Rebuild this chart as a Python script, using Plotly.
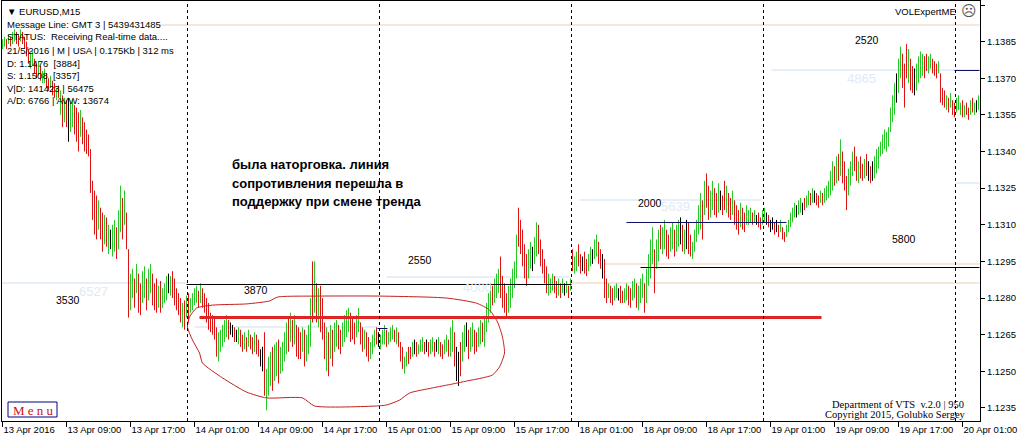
import plotly.graph_objects as go

# ---------------- data (prices stored as pips above BASE) ----------------
BASE = 1.1200
PIP = 0.0001

HIGH_PIPS = [
    186, 187, 186, 188, 187, 189, 190, 189, 188, 190,
    189, 187, 185, 182, 180, 181, 178, 176, 177, 175,
    173, 174, 172, 170, 171, 169, 168, 166, 167, 165,
    163, 162, 161, 162, 160, 161, 159, 158, 156, 157,
    154, 152, 149, 147, 141, 128, 124, 122, 120, 117,
    115, 114, 113, 110, 108, 110, 112, 109, 116, 126,
    121, 124, 115, 100, 90, 92, 88, 94, 90, 86,
    91, 93, 88, 92, 94, 90, 86, 88, 85, 87,
    84, 86, 89, 90, 89, 91, 88, 84, 82, 80,
    78, 79, 81, 82, 80, 82, 84, 85, 83, 86,
    84, 82, 80, 78, 74, 73, 72, 68, 66, 67,
    69, 71, 73, 71, 70, 69, 68, 67, 68, 67,
    65, 66, 64, 67, 65, 64, 66, 65, 63, 59,
    60, 66, 51, 56, 58, 60, 61, 62, 63, 60,
    62, 66, 70, 72, 74, 71, 73, 69, 68, 66,
    68, 67, 65, 69, 80, 95, 95, 86, 84, 85,
    80, 70, 68, 66, 69, 67, 70, 71, 69, 67,
    70, 73, 75, 76, 74, 72, 70, 73, 76, 70,
    68, 67, 66, 64, 62, 65, 67, 68, 66, 65,
    67, 69, 67, 66, 68, 69, 67, 68, 66, 62,
    60, 56, 58, 60, 60, 62, 63, 62, 61, 63,
    64, 62, 63, 62, 63, 64, 62, 63, 64, 62,
    61, 63, 65, 63, 68, 71, 66, 60, 58, 62,
    66, 69, 70, 67, 68, 70, 67, 66, 68, 71,
    70, 72, 78, 82, 86, 85, 88, 90, 92, 97,
    89, 86, 82, 85, 88, 92, 95, 106, 117, 112,
    108, 102, 98, 100, 103, 101, 105, 111, 110, 104,
    100, 96, 93, 90, 88, 90, 89, 87, 88, 86,
    88, 86, 87, 85, 88, 100, 97, 99, 102, 98,
    97, 99, 96, 98, 101, 100, 104, 106, 103, 100,
    98, 96, 88, 86, 85, 84, 85, 86, 84, 85,
    83, 84, 86, 85, 84, 87, 88, 86, 85, 88,
    90, 86, 92, 98, 104, 109, 100, 104, 108, 110,
    109, 112, 108, 106, 109, 111, 108, 110, 112, 113,
    110, 108, 112, 111, 106, 103, 108, 112, 118, 123,
    120, 128, 131, 126, 124, 128, 125, 123, 127, 124,
    122, 128, 126, 123, 121, 124, 120, 118, 116, 119,
    117, 115, 118, 116, 117, 115, 116, 114, 115, 113,
    116, 117, 115, 114, 112, 113, 111, 112, 110, 112,
    109, 107, 110, 112, 115, 117, 119, 118, 120, 121,
    119, 121, 122, 124, 123, 125, 124, 123, 122, 124,
    123, 125, 126, 128, 132, 136, 134, 138, 139, 145,
    140, 136, 130, 133, 136, 140, 142, 138, 136, 138,
    135, 137, 139, 136, 134, 136, 138, 141, 142, 144,
    147, 149, 148, 150, 158, 163, 168, 172, 178, 183,
    180, 176, 184, 182, 178, 175, 174, 176, 179, 181,
    180, 179, 180, 179, 180, 178, 177, 176, 177, 172,
    166, 165, 163, 162, 164, 161, 160, 162, 163, 160,
    161, 159, 160, 158, 161, 162, 160, 161, 163,
]

LOW_PIPS = [
    182, 183, 182, 184, 183, 184, 185, 184, 183, 185,
    184, 182, 179, 176, 174, 175, 172, 170, 171, 169,
    168, 168, 166, 165, 166, 163, 162, 161, 162, 155,
    150, 152, 150, 144, 148, 150, 147, 144, 140, 146,
    143, 140, 139, 138, 123, 112, 106, 104, 108, 104,
    99, 102, 101, 98, 100, 97, 99, 96, 100, 107,
    104, 110, 100, 72, 75, 80, 76, 82, 74, 73,
    78, 80, 75, 79, 82, 77, 75, 74, 76, 74,
    76, 78, 79, 82, 81, 80, 77, 75, 73, 70,
    68, 67, 72, 70, 74, 75, 77, 78, 76, 78,
    76, 74, 70, 67, 66, 65, 63, 56, 54, 58,
    60, 62, 64, 63, 65, 64, 62, 62, 61, 60,
    58, 59, 58, 60, 59, 57, 58, 57, 56, 52,
    50, 40, 34, 40, 44, 42, 46, 48, 45, 49,
    50, 54, 57, 58, 62, 60, 61, 56, 55, 55,
    58, 52, 54, 57, 60, 70, 74, 70, 68, 66,
    63, 55, 50, 48, 55, 52, 58, 60, 59, 57,
    60, 62, 64, 66, 62, 63, 61, 64, 66, 61,
    58, 59, 56, 54, 55, 57, 60, 61, 60, 59,
    61, 61, 60, 61, 62, 63, 62, 61, 60, 54,
    51, 49, 52, 53, 55, 56, 57, 56, 57, 58,
    58, 57, 58, 56, 57, 58, 56, 58, 57, 56,
    55, 57, 58, 56, 56, 58, 52, 46, 44, 48,
    54, 58, 60, 55, 58, 60, 57, 58, 60, 61,
    62, 60, 66, 70, 74, 77, 78, 80, 82, 80,
    76, 74, 72, 74, 76, 80, 84, 88, 101, 98,
    93, 88, 85, 88, 92, 91, 94, 97, 98, 93,
    90, 86, 82, 81, 82, 83, 82, 80, 81, 80,
    82, 81, 82, 80, 83, 91, 90, 91, 93, 90,
    91, 90, 89, 91, 93, 94, 96, 97, 94, 92,
    88, 80, 78, 80, 78, 77, 79, 80, 79, 78,
    78, 78, 79, 77, 76, 79, 80, 76, 75, 78,
    80, 74, 78, 85, 88, 94, 82, 92, 95, 100,
    98, 100, 97, 96, 99, 100, 97, 99, 101, 102,
    99, 98, 100, 98, 97, 96, 99, 103, 106, 108,
    104, 114, 117, 112, 113, 116, 114, 113, 115, 116,
    114, 116, 115, 113, 112, 114, 110, 108, 106, 109,
    108, 107, 110, 110, 111, 110, 111, 110, 109, 108,
    110, 111, 110, 109, 107, 108, 106, 107, 105, 107,
    104, 103, 105, 107, 109, 111, 113, 113, 114, 115,
    114, 116, 117, 118, 118, 119, 119, 118, 117, 119,
    118, 119, 120, 121, 122, 124, 126, 127, 128, 130,
    127, 124, 116, 122, 126, 130, 132, 128, 127, 129,
    128, 129, 130, 128, 127, 128, 129, 131, 133, 138,
    139, 141, 140, 142, 148, 152, 155, 160, 164, 170,
    166, 158, 170, 168, 165, 164, 163, 165, 168, 170,
    171, 170, 173, 172, 174, 172, 171, 170, 172, 160,
    159, 158, 157, 156, 158, 155, 154, 156, 157, 155,
    154, 154, 155, 153, 155, 156, 155, 156, 157,
]

# g = up bar, r = down bar, k = unchanged bar
BAR_DIR = (
    "ggrgrggrrg" "rrrrggrrgr" "ggrrgrrgrg" "rgrkggrrrg" "rrrrrrrrgr"
    "rgrgkggrgg" "rgrrggrgrr" "ggrggrrrgr" "gggkgrrrrr" "grgrggggrg"
    "rrrrrrrrgg" "gggrkkrkgr" "rgrgrrgrrk" "krgggrggrg" "gggrgrgrrr"
    "grgggrgrgr" "rrgrgrggrr" "ggggrrrggr" "rgrrgggrkg" "ggrgggrgrr"
    "rggrrgkrgg" "grkrggrkgr" "rggrggrkkr" "ggkrggrrgg" "rggggrgggr"
    "rrrgggggrr" "rrrggkggrr" "rrrgggrrgr" "gkgrgrggrr" "krrggkggrr"
    "krrgrrggkr" "rggrrggrgg" "grggggrggr" "ggrrggrggk" "rgkrrggggg"
    "rgrrggrrgk" "rrgrrgrrrg" "rrgggrgkrr" "ggkrkkrkrg" "rrgggggkgg"
    "krggrgkrrg" "rgggggrgrg" "rrrgggrrgr" "rgrkrkgggg" "gggggggkgg"
    "rrrgrrkggg" "grrggrrrgr" "rrgrgrrggg" "rgrrgrgkg"
)

assert len(HIGH_PIPS) == len(LOW_PIPS) == len(BAR_DIR), (len(HIGH_PIPS), len(LOW_PIPS), len(BAR_DIR))
N_BARS = len(HIGH_PIPS)

TICK_BARS = [0, 32, 64, 96, 128, 160, 192, 224, 256, 288, 320, 352, 384, 416, 448, 480]
TICK_TEXT = ["13 Apr 2016", "13 Apr 09:00", "13 Apr 17:00", "14 Apr 01:00", "14 Apr 09:00",
             "14 Apr 17:00", "15 Apr 01:00", "15 Apr 09:00", "15 Apr 17:00", "18 Apr 01:00",
             "18 Apr 09:00", "18 Apr 17:00", "19 Apr 01:00", "19 Apr 09:00", "19 Apr 17:00",
             "20 Apr 01:00"]
PRICE_TICKS = [1.1235, 1.1250, 1.1265, 1.1280, 1.1295, 1.1310, 1.1325,
               1.1340, 1.1355, 1.1370, 1.1385, 1.1400]

DAY_SEPARATORS = [92, 188, 284, 380, 476]

# level lines: (start bar, end bar, price in pips)
BLACK_LEVELS = [(92, 284.5, 85.55), (319, 488.5, 92.51)]
NAVY_LEVELS = [(312, 392, 110.94), (476, 488.5, 173.18), (187.5, 192.5, 67.53)]
RED_LEVEL = (98.5, 409.5, 72.03)
FAINT_BLUE_LEVELS = [(-1, 92, 86.16), (96, 188.5, 68.14), (192, 283.5, 88.62),
                     (288.5, 379.5, 120.15), (384.5, 488.5, 173.38), (476.5, 488.5, 127.11)]
BEIGE_LEVELS = [(77, 488.5, 191.81), (301, 488.5, 93.94), (284.5, 488.5, 86.16)]

# level labels: (text, bar, pips)
LEVEL_LABELS = [("3530", 32.5, 79.2), ("3870", 126.5, 83.3), ("2550", 208.5, 95.6),
                ("2000", 323.5, 118.9), ("2520", 432, 185.7), ("5800", 450.5, 104.2)]
FAINT_LABELS = [("6527", 45.5, 82.5), ("4000", 237.5, 84.5), ("5639", 336.5, 117.3),
                ("4865", 429.5, 170.1)]

# hand-drawn red contour around the range (bar, pips)
CONTOUR_BARS = [93.5, 97, 105, 122, 133.5, 137.5, 158.5, 188.5, 222, 237, 243.5, 247.5, 250,
                251, 248.5, 245, 240, 232, 225, 215, 203.5, 198.5, 192, 187, 156, 150, 132,
                122, 110, 100, 98.5, 95, 92.5, 93.5]
CONTOUR_PIPS = [72.2, 75.9, 77.1, 77.6, 78.8, 80.4, 80.8, 80.8, 80.0, 77.9, 75.1, 70.2, 64.0,
                57.5, 51.8, 48.5, 47.3, 46.0, 44.8, 43.2, 41.1, 38.2, 36.2, 35.8, 35.8, 39.1,
                39.1, 41.5, 47.3, 53.4, 57.5, 62.8, 68.1, 72.2]

INFO_LINES = ["\u25bc EURUSD,M15",
              "Message Line: GMT 3 | 5439431485",
              "STATUS:\u00a0 Receiving Real-time data....",
              "21/5/2016 | M | USA | 0.175Kb | 312 ms",
              "D: 1.1476\u00a0 [3884]",
              "S: 1.1508\u00a0 [3357]",
              "V|D: 141423 | 56475",
              "A/D: 6766 | AVW: 13674"]
NOTE_LINES = ["была наторговка. линия", "сопротивления перешла в", "поддержку при смене тренда"]

# ---------------- helpers ----------------
def price(p):
    return BASE + p * PIP

W, H = 1018, 443
ML, MR, MT, MB = 2, 38, 1, 22
PW, PH = W - ML - MR, H - MT - MB


def px(x):
    return (x - ML) / PW


def py(y):
    return (H - MB - y) / PH


SANS = "Liberation Sans, Arial"
SMALL = 9.5
GREEN, RED, BLACK = "#28c828", "#dc1414", "#000000"

fig = go.Figure()

for code, col in (("g", GREEN), ("r", RED), ("k", BLACK)):
    xs, ys = [], []
    for i in range(N_BARS):
        if BAR_DIR[i] == code:
            xs += [i, i, None]
            ys += [price(LOW_PIPS[i]), price(HIGH_PIPS[i]), None]
    fig.add_trace(go.Scatter(x=xs, y=ys, mode="lines", line=dict(color=col, width=1),
                             hoverinfo="skip", showlegend=False))

fig.add_trace(go.Scatter(x=CONTOUR_BARS, y=[price(p) for p in CONTOUR_PIPS], mode="lines",
                         line=dict(color="#c41e1e", width=1, shape="spline", smoothing=0.6),
                         hoverinfo="skip", showlegend=False))

shapes = []
for (a, b, p) in BEIGE_LEVELS:
    shapes.append(dict(type="line", xref="x", yref="y", x0=a, x1=b, y0=price(p), y1=price(p),
                       line=dict(color="#f5e8da", width=2), layer="below"))
for (a, b, p) in FAINT_BLUE_LEVELS:
    shapes.append(dict(type="line", xref="x", yref="y", x0=a, x1=b, y0=price(p), y1=price(p),
                       line=dict(color="#e6eff8", width=2), layer="below"))
for (a, b, p) in BLACK_LEVELS:
    shapes.append(dict(type="line", xref="x", yref="y", x0=a, x1=b, y0=price(p), y1=price(p),
                       line=dict(color="#000000", width=1)))
for (a, b, p) in NAVY_LEVELS:
    shapes.append(dict(type="line", xref="x", yref="y", x0=a, x1=b, y0=price(p), y1=price(p),
                       line=dict(color="#10106a", width=1)))
a, b, p = RED_LEVEL
shapes.append(dict(type="line", xref="x", yref="y", x0=a, x1=b, y0=price(p), y1=price(p),
                   line=dict(color="#e02424", width=3)))
for d in DAY_SEPARATORS:
    shapes.append(dict(type="line", xref="x", yref="paper", x0=d + 0.5, x1=d + 0.5, y0=0, y1=1,
                       line=dict(color="#000000", width=1, dash="3px,3px")))
# Menu button
shapes.append(dict(type="rect", xref="paper", yref="paper", x0=px(8), x1=px(57), y0=py(417), y1=py(402),
                   line=dict(color="#000080", width=1), fillcolor="white"))

ann = []
info_y = [11, 24, 36, 50, 63, 75, 88, 100]
for t, yy in zip(INFO_LINES, info_y):
    ann.append(dict(text=t, x=px(5), y=py(yy), xref="paper", yref="paper", xanchor="left",
                    yanchor="middle", showarrow=False, font=dict(family=SANS, size=SMALL, color="black")))
for t, yy in zip(NOTE_LINES, [165, 183, 201]):
    ann.append(dict(text="<b>%s</b>" % t, x=px(230), y=py(yy), xref="paper", yref="paper",
                    xanchor="left", yanchor="middle", showarrow=False,
                    font=dict(family=SANS, size=13, color="black")))
for (t, b, p) in LEVEL_LABELS:
    ann.append(dict(text=t, x=b, y=price(p), xref="x", yref="y", showarrow=False,
                    font=dict(family=SANS, size=10.5, color="black")))
for (t, b, p) in FAINT_LABELS:
    ann.append(dict(text=t, x=b, y=price(p), xref="x", yref="y", showarrow=False,
                    font=dict(family=SANS, size=13, color="#e1eaf4")))
ann.append(dict(text="VOLExpertME", x=px(958), y=py(11), xref="paper", yref="paper", xanchor="right",
                yanchor="middle", showarrow=False, font=dict(family=SANS, size=SMALL, color="black")))
ann.append(dict(text="\u2639", x=px(969), y=py(11), xref="paper", yref="paper", xanchor="center",
                yanchor="middle", showarrow=False, font=dict(family="DejaVu Sans", size=15, color="#555555")))
ann.append(dict(text="Department of VTS\u00a0 v.2.0 | 950", x=px(966), y=py(404), xref="paper",
                yref="paper", xanchor="right", yanchor="middle", showarrow=False,
                font=dict(family="Liberation Serif, Times New Roman", size=10.5, color="black")))
ann.append(dict(text="Copyright 2015, Golubko Sergey", x=px(968), y=py(414), xref="paper",
                yref="paper", xanchor="right", yanchor="middle", showarrow=False,
                font=dict(family="Liberation Serif, Times New Roman", size=10.5, color="black")))
ann.append(dict(text="M e n u", x=px(33), y=py(410), xref="paper", yref="paper", xanchor="center",
                yanchor="middle", showarrow=False,
                font=dict(family="Liberation Serif, Times New Roman", size=13, color="#d01010")))

fig.update_layout(
    width=W, height=H,
    margin=dict(l=ML, r=MR, t=MT, b=MB, pad=0, autoexpand=False),
    paper_bgcolor="white", plot_bgcolor="white",
    showlegend=False,
    shapes=shapes, annotations=ann,
    font=dict(family=SANS, size=SMALL, color="black"),
    xaxis=dict(range=[-0.25, N_BARS - 0.25], tickvals=TICK_BARS, ticktext=TICK_TEXT,
               showgrid=False, zeroline=False, showline=True, linecolor="black", linewidth=1,
               mirror=True, ticks="outside", ticklen=5, tickcolor="black", tickangle=0,
               automargin=False, ticklabelposition="outside right",
               tickfont=dict(family=SANS, size=SMALL, color="black")),
    yaxis=dict(range=[price(29.65), price(201.64)], tickvals=PRICE_TICKS, tickformat=".4f",
               side="right", showgrid=False, zeroline=False, showline=True, linecolor="black",
               linewidth=1, mirror=True, ticks="outside", ticklen=4, tickcolor="black",
               automargin=False, tickfont=dict(family=SANS, size=SMALL, color="black")),
)

fig.write_html("out.html", config={"displayModeBar": False, "staticPlot": True},
               post_script="document.body.style.margin='0px';document.body.style.overflow='hidden';")
